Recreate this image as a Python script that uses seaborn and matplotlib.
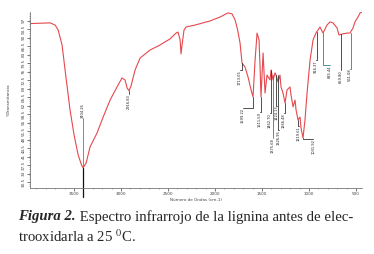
import matplotlib
matplotlib.use("Agg")
import matplotlib.pyplot as plt
import seaborn as sns
import pandas as pd
import numpy as np

# ---- data ----
wavenumber = [3968, 3900, 3830, 3755, 3702, 3670, 3628, 3596, 3543, 3500, 3457, 3420,
              3404, 3372, 3330, 3255, 3191, 3117, 3043, 2990, 2958, 2936, 2915, 2894,
              2851, 2798, 2692, 2585, 2479, 2415, 2394, 2372, 2362, 2351, 2330, 2309,
              2213, 2053, 1947, 1862, 1819, 1787, 1760, 1734, 1713, 1681, 1649, 1617,
              1596, 1574, 1553, 1532, 1521, 1511, 1489, 1468, 1447, 1415, 1404, 1383,
              1362, 1351, 1330, 1309, 1298, 1277, 1255, 1234, 1202, 1192, 1170, 1149,
              1138, 1117, 1096, 1085, 1064, 1043, 1021, 989, 957, 926, 883, 851, 809,
              777, 745, 702, 681, 649, 596, 564, 532, 511, 479, 457, 440]
transmittance = [95.8, 95.9, 96.0, 96.1, 95.2, 93.2, 87.0, 76.7, 60.2, 49.9, 41.7, 37.5,
                 36.4, 38.4, 45.0, 50.8, 57.3, 64.3, 69.7, 73.4, 72.6, 69.3, 68.1, 70.1,
                 76.7, 81.6, 84.9, 87.0, 89.5, 91.9, 92.3, 89.1, 83.3, 87.0, 93.2, 94.4,
                 95.2, 96.9, 98.5, 100.2, 99.8, 97.3, 93.2, 87.8, 79.6, 77.9, 73.8, 68.5,
                 65.6, 80.8, 91.9, 89.1, 77.9, 65.6, 83.7, 67.2, 74.6, 72.6, 76.7, 72.6,
                 75.5, 74.6, 71.8, 74.6, 69.7, 67.2, 63.1, 68.5, 69.7, 66.4, 61.5, 64.3,
                 60.2, 56.1, 57.3, 52.8, 48.7, 56.1, 67.2, 80.8, 89.1, 91.9, 94.4, 91.9, 95.2,
                 96.5, 96.1, 94.0, 91.1, 91.5, 91.9, 91.9, 94.0, 96.5, 98.5, 100.2, 100.4]

# peak annotations: peak position, curve value at line start, label end value, label text
peak_wn = [3404, 2915, 1713, 1596, 1511, 1404, 1351, 1383, 1330, 1255, 1117, 1064,
           915, 851, 660, 555]
peak_T = [36.4, 68.1, 79.6, 65.6, 65.6, 76.7, 74.6, 74.6, 74.6, 63.1, 56.1, 48.7,
          92.3, 91.9, 91.5, 91.9]
label_T = [56.9, 66.8, 76.8, 61.0, 59.5, 59.0, 62.0, 48.5, 52.0, 59.0, 53.5, 48.3,
           80.8, 78.6, 76.5, 77.3]
label_wn = [3404, 2915, 1734, 1702, 1521, 1415, 1340, 1383, 1320, 1266, 1107, 955,
            926, 777, 660, 564]
peak_text = ["3404.26", "2916.83", "1713.05", "1599.22", "1511.59", "1462.70",
             "1424.13", "1375.68", "1326.95", "1266.48", "1219.61", "1031.92",
             "916.37", "835.44", "659.80", "561.08"]
peak_color = ["#2f8f9f", "#333333", "#333333", "#333333", "#333333", "#333333",
              "#333333", "#2f7f8f", "#333333", "#333333", "#333333", "#333333",
              "#333333", "#2f7f8f", "#333333", "#2f7f8f"]

x_ticks = [3500, 3000, 2500, 2000, 1500, 1000, 500]
x_tick_labels = ["3500", "3000", "2500", "2000", "1500", "1000", "500"]
y_ticks = [97, 93.5, 90, 86.5, 83, 79.5, 76, 72.5, 69, 65.5, 62, 58.5, 55, 51.5,
           48, 44.5, 41, 37.5, 34, 30.5]
y_tick_labels = ["97", "93.5", "90", "86.5", "83", "79.5", "76", "72.5", "69", "65.5",
                 "62", "58.5", "55", "51.5", "48", "44.5", "41", "37.5", "34", "30.5"]

caption_bold = "Figura 2."
caption_rest1 = " Espectro infrarrojo de la lignina antes de elec-"
caption_line2 = "trooxidarla a 25 $^{0}$C."

# ---- plot ----
sns.set_theme(style="white")
plt.rcParams["font.family"] = ["DejaVu Sans"]
plt.rcParams["mathtext.fontset"] = "stix"

fig = plt.figure(figsize=(3.74, 2.54), dpi=100)
ax = fig.add_axes([0.080, 0.260, 0.888, 0.693])

df = pd.DataFrame({"wn": wavenumber, "T": transmittance})
sns.lineplot(data=df, x="wn", y="T", ax=ax, color="#e5484d", lw=0.8, sort=False,
             estimator=None)

ax.set_xlim(3970, 436)
ax.set_ylim(28.1, 100.6)

# annotations
for wn0, t0, lt, lwn, txt, c in zip(peak_wn, peak_T, label_T, label_wn, peak_text, peak_color):
    xs = [wn0, wn0, lwn] if lwn != wn0 else [wn0, wn0]
    ys = [t0, lt, lt] if lwn != wn0 else [t0, lt]
    ax.plot(xs, ys, color=c, lw=0.6, clip_on=False)
    above = lt > t0
    ax.text(lwn, lt, txt, rotation=90, fontsize=2.6, ha="center",
            va="bottom" if above else "top", color="#222222")
# main peak line extends below axis
ax.plot([peak_wn[0], peak_wn[0]], [peak_T[0], 24.5], color="#111111", lw=0.9,
        clip_on=False)

ax.set_xticks(x_ticks)
ax.set_xticklabels(x_tick_labels, fontsize=3)
ax.set_yticks(y_ticks)
ax.set_yticklabels(y_tick_labels, fontsize=3, rotation=90, va="center")
ax.set_xticks(np.arange(3900, 400, -100), minor=True)
ax.set_yticks(np.arange(29, 100, 0.875), minor=True)
ax.tick_params(axis="both", which="major", length=2, width=0.5, pad=1, colors="#444444")
ax.tick_params(axis="both", which="minor", length=1, width=0.4, colors="#666666")
ax.tick_params(bottom=True, left=True, which="both")
ax.set_xlabel("Número de Ondas (cm-1)", fontsize=3, labelpad=1, color="#444444")
ax.set_ylabel("%Transmitancia", fontsize=3, labelpad=8, color="#444444")
for s in ["top", "right"]:
    ax.spines[s].set_visible(False)
for s in ["bottom", "left"]:
    ax.spines[s].set_color("#777777")
    ax.spines[s].set_linewidth(0.6)

# caption
serif = ["Liberation Serif", "DejaVu Serif"]
t1 = fig.text(0.048, 0.146, caption_bold, fontsize=10.6, family=serif,
              style="italic", weight="bold", va="center", ha="left")
fig.canvas.draw()
bb = t1.get_window_extent(renderer=fig.canvas.get_renderer())
x_after = bb.x1 / fig.bbox.width
fig.text(x_after, 0.146, caption_rest1, fontsize=10.6, family=serif, va="center", ha="left")
fig.text(0.048, 0.067, caption_line2, fontsize=10.6, family=serif, va="center", ha="left")

fig.savefig("out.png", dpi=100)
